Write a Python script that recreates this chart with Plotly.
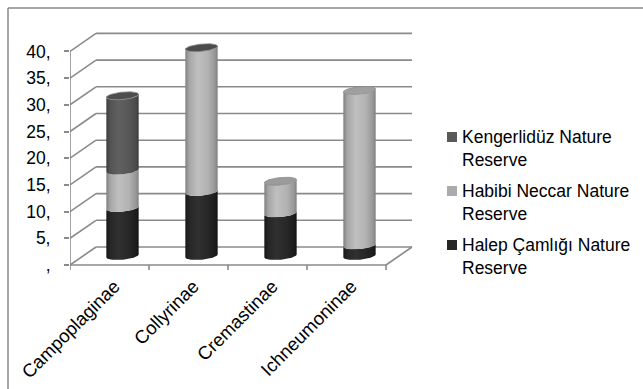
import numpy as np
import plotly.graph_objects as go

# ---- data -------------------------------------------------------------
categories = ["Campoplaginae", "Collyrinae", "Cremastinae", "Ichneumoninae"]
halep = [9, 12, 8, 2]          # Halep Çamlığı Nature Reserve
habibi = [7, 27, 6, 29]        # Habibi Neccar Nature Reserve
kengerliduz = [14, 0, 0, 0]    # Kengerlidüz Nature Reserve
series_names = ["Halep Çamlığı Nature Reserve",
                "Habibi Neccar Nature Reserve",
                "Kengerlidüz Nature Reserve"]
y_ticks = [0, 5, 10, 15, 20, 25, 30, 35, 40]
y_tick_labels = [",", "5,", "10,", "15,", "20,", "25,", "30,", "35,", "40,"]

# ---- styling ----------------------------------------------------------
FONT = "Liberation Sans, Arial, sans-serif"
FONT_SIZE = 17.5
CAT_FONT_SIZE = 18.5
GRID = "#8a8a8a"
SERIES_SCALES = [
    [[0, "#161616"], [0.12, "#262626"], [0.38, "#303030"], [0.7, "#272727"], [0.92, "#1c1c1c"], [1, "#141414"]],
    [[0, "#7f7f7f"], [0.12, "#a6a6a6"], [0.38, "#bfbfbf"], [0.7, "#b2b2b2"], [0.92, "#969696"], [1, "#7e7e7e"]],
    [[0, "#3c3c3c"], [0.12, "#535353"], [0.38, "#606060"], [0.7, "#575757"], [0.92, "#4a4a4a"], [1, "#3a3a3a"]],
]
LEGEND_COLORS = ["#262626", "#ababab", "#595959"]
CAP_COLORS = ["#4e4e4e", "#4c4c4c", "#9b9b9b", "#a0a0a0"]

# ---- pixel layout of the plot area ------------------------------------
W, H = 643, 389
PLOT_L, PLOT_R, PLOT_T, PLOT_B = 70, 420, 25, 271
CAT_PX0, CAT_PITCH = 122.5, 79.0      # first cylinder centre, category pitch
ZERO_PX, UNIT_PX = 256.0, 5.34        # value 0 at mid depth, px per unit

x_range = [(PLOT_L - CAT_PX0) / CAT_PITCH, (PLOT_R - CAT_PX0) / CAT_PITCH]
y_range = [(ZERO_PX - PLOT_B) / UNIT_PX, (ZERO_PX - PLOT_T) / UNIT_PX]

# half depth of the oblique box (front is down-left, back is up-right)
DX = 13.0 / CAT_PITCH
DY = 9.0 / UNIT_PX
# cylinder cross-section: radius and oblique shear
CR = 15.0 / CAT_PITCH
CSX = 6.0 / CAT_PITCH
CSY = 4.0 / UNIT_PX
T_RIGHT = np.arctan2(CSX, CR)
HALF_W = np.hypot(CR, CSX)
LABEL_SHIFT = 5.0 / CAT_PITCH


def ring(cx, v, t):
    return cx + CR * np.cos(t) + CSX * np.sin(t), v + CSY * np.sin(t)


def front_arc(cx, v):
    t = np.linspace(np.pi + T_RIGHT, 2 * np.pi + T_RIGHT, 48)
    return ring(cx, v, t)


def px_to_paper_x(px):
    return (px - PLOT_L) / (PLOT_R - PLOT_L)


def px_to_paper_y(py):
    return (PLOT_B - py) / (PLOT_B - PLOT_T)


fig = go.Figure()

# ---- cylinders --------------------------------------------------------
stack = [halep, habibi, kengerliduz]
for i, cat in enumerate(categories):
    base = 0.0
    for s, values in enumerate(stack):
        val = values[i]
        if val <= 0:
            continue
        x0, y0 = front_arc(i, base)
        x1, y1 = front_arc(i, base + val)
        xs = np.concatenate([x0, x1[::-1], x0[:1]])
        ys = np.concatenate([y0, y1[::-1], y0[:1]])
        fig.add_trace(go.Scatter(
            x=xs, y=ys, mode="lines", fill="toself",
            line=dict(width=0),
            fillgradient=dict(type="horizontal", colorscale=SERIES_SCALES[s],
                              start=i - HALF_W, stop=i + HALF_W),
            name=series_names[s], showlegend=False, hoverinfo="skip"))
        base += val
    # top cap
    t = np.linspace(0, 2 * np.pi, 80)
    cx_, cy_ = ring(i, base, t)
    fig.add_trace(go.Scatter(
        x=cx_, y=cy_, mode="lines", fill="toself",
        line=dict(width=0.8, color="#8c8c8c"), fillcolor=CAP_COLORS[i],
        showlegend=False, hoverinfo="skip"))

# ---- oblique frame: walls, floor, gridlines ---------------------------
x_fl, x_bl = -0.5 - DX, -0.5 + DX
x_fr, x_br = len(categories) - 0.5 - DX, len(categories) - 0.5 + DX
shapes = []


def seg(xa, ya, xb, yb):
    shapes.append(dict(type="line", xref="x", yref="y", x0=xa, y0=ya, x1=xb, y1=yb,
                       line=dict(color=GRID, width=1.6), layer="below"))


for v in y_ticks:
    seg(x_fl, v - DY, x_bl, v + DY)          # side wall
    seg(x_bl, v + DY, x_br, v + DY)          # back wall
seg(x_fl, -DY, x_fl, y_ticks[-1] - DY)       # value axis line
seg(x_fl, -DY, x_fr, -DY)                    # floor front edge
seg(x_fr, -DY, x_br, DY)                     # floor right edge
# category tick marks under the floor edge
for k in range(len(categories) + 1):
    seg(x_fl + k, -DY, x_fl + k, -DY - 5.0 / UNIT_PX)

# outer chart border (top and left edges visible)
for x0, y0, x1, y1 in [(8, 8, W + 5, 8), (8, 8, 8, H + 5)]:
    shapes.append(dict(type="line", xref="paper", yref="paper",
                       x0=px_to_paper_x(x0), y0=px_to_paper_y(y0),
                       x1=px_to_paper_x(x1), y1=px_to_paper_y(y1),
                       line=dict(color="#888888", width=1.5)))

# ---- legend (top entry = top of stack) --------------------------------
annotations = []
legend_rows = [(2, 137), (1, 191), (0, 245)]
for s, cy in legend_rows:
    shapes.append(dict(type="rect", xref="paper", yref="paper",
                       x0=px_to_paper_x(447), x1=px_to_paper_x(457),
                       y0=px_to_paper_y(cy + 5), y1=px_to_paper_y(cy - 5),
                       fillcolor=LEGEND_COLORS[s], line=dict(width=0)))
    name = series_names[s]
    first, _, last = name.rpartition(" ")
    annotations.append(dict(xref="paper", yref="paper",
                            x=px_to_paper_x(460), y=px_to_paper_y(cy - 12),
                            xanchor="left", yanchor="top", align="left",
                            showarrow=False, text=f"{first}<br>{last}",
                            font=dict(family=FONT, size=FONT_SIZE, color="#000000")))

fig.update_layout(
    width=W, height=H,
    margin=dict(l=PLOT_L, r=W - PLOT_R, t=PLOT_T, b=H - PLOT_B, pad=0, autoexpand=False),
    paper_bgcolor="white", plot_bgcolor="white",
    showlegend=False,
    shapes=shapes, annotations=annotations,
    font=dict(family=FONT, size=FONT_SIZE, color="#000000"),
    xaxis=dict(range=x_range, showgrid=False, zeroline=False, showline=False,
               automargin=False,
               tickmode="array",
               tickvals=[k - DX + LABEL_SHIFT for k in range(len(categories))],
               ticktext=categories, tickangle=-45, ticks="",
               tickfont=dict(family=FONT, size=CAT_FONT_SIZE, color="#000000")),
    yaxis=dict(range=y_range, showgrid=False, zeroline=False, showline=False,
               automargin=False, showticklabels=False, ticks=""),
    yaxis2=dict(range=[y_range[0] + DY, y_range[1] + DY], overlaying="y", side="left",
                automargin=False,
                showgrid=False, zeroline=False, showline=False,
                tickmode="array", tickvals=y_ticks, ticktext=y_tick_labels,
                ticks="outside", ticklen=5, tickcolor=GRID, tickwidth=1.6,
                ticklabelstandoff=10,
                tickfont=dict(family=FONT, size=FONT_SIZE, color="#000000")),
)
# a hidden trace so the shifted value axis is drawn
fig.add_trace(go.Scatter(x=[None], y=[None], yaxis="y2", showlegend=False, hoverinfo="skip"))

fig.write_html("out.html")
